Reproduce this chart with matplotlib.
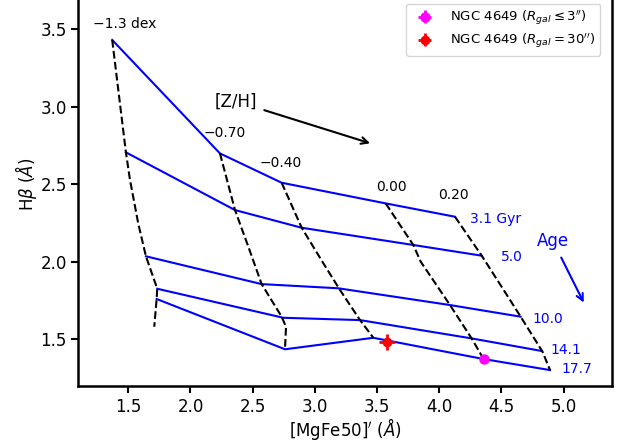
import matplotlib
matplotlib.use("Agg")
import matplotlib.pyplot as plt

# isochrones (blue): [Z/H] = -1.3, -0.70, -0.40, 0.00, 0.20
ages = ["3.1 Gyr", "5.0", "10.0", "14.1", "17.7"]
iso_x = [
    [1.371, 2.237, 2.733, 3.569, 4.126],
    [1.481, 2.358, 2.894, 3.791, 4.341],
    [1.642, 2.572, 3.188, 4.086, 4.654],
    [1.733, 2.746, 3.363, 4.260, 4.823],
    [1.728, 2.760, 3.470, 4.356, 4.890],
]
iso_y = [
    [3.429, 2.698, 2.509, 2.376, 2.290],
    [2.705, 2.333, 2.219, 2.108, 2.039],
    [2.035, 1.856, 1.829, 1.721, 1.646],
    [1.826, 1.639, 1.624, 1.506, 1.425],
    [1.760, 1.436, 1.510, 1.373, 1.302],
]

# iso-metallicity tracks (black dashed)
zh_labels = ["\u22121.3 dex", "\u22120.70", "\u22120.40", "0.00", "0.20"]
zh_x = [
    [1.371, 1.481, 1.514, 1.580, 1.642, 1.733, 1.728, 1.709],
    [2.237, 2.358, 2.465, 2.572, 2.733, 2.768, 2.760],
    [2.733, 2.894, 3.068, 3.202, 3.363, 3.470],
    [3.569, 3.791, 3.851, 4.086, 4.260, 4.356],
    [4.126, 4.341, 4.500, 4.654, 4.830, 4.890],
]
zh_y = [
    [3.429, 2.705, 2.527, 2.247, 2.035, 1.826, 1.760, 1.581],
    [2.698, 2.333, 2.097, 1.856, 1.646, 1.580, 1.440],
    [2.509, 2.219, 1.990, 1.818, 1.624, 1.510],
    [2.376, 2.108, 2.000, 1.721, 1.506, 1.373],
    [2.290, 2.039, 1.840, 1.646, 1.420, 1.302],
]

# NGC 4649 measurements
core_x, core_y = 4.356, 1.373
core_xerr, core_yerr = 0.005, 0.004
outer_x, outer_y = 3.582, 1.483
outer_xerr, outer_yerr = 0.064, 0.054

plt.rcParams["font.size"] = 12
fig = plt.figure(figsize=(6.23, 4.45), dpi=100)
ax = fig.add_axes([0.126, 0.1328, 0.8567, 0.9068])

for xs, ys in zip(iso_x, iso_y):
    ax.plot(xs, ys, color="blue", lw=1.5)
for xs, ys in zip(zh_x, zh_y):
    ax.plot(xs, ys, color="black", lw=1.5, ls="--")

ax.errorbar(core_x, core_y, xerr=core_xerr, yerr=core_yerr, fmt="o",
            color="magenta", ms=6.5, elinewidth=2,
            label=r"NGC 4649 ($R_{gal} \leq 3''$)", zorder=5)
ax.errorbar(outer_x, outer_y, xerr=outer_xerr, yerr=outer_yerr, fmt="o",
            color="red", ms=6, elinewidth=2,
            label=r"NGC 4649 ($R_{gal} = 30''$)", zorder=5)

# metallicity labels
zh_pos = [(1.216, 3.53), (2.108, 2.83), (2.559, 2.634), (3.614, 2.48), (4.116, 2.43)]
for lab, (tx, ty) in zip(zh_labels, zh_pos):
    ha = "center" if lab in ("0.00", "0.20") else "left"
    ax.text(tx, ty, lab, fontsize=10, ha=ha, va="center")

# age labels
age_pos = [(4.247, 2.275), (4.496, 2.028), (4.751, 1.631), (4.895, 1.431), (4.985, 1.308)]
for lab, (tx, ty) in zip(ages, age_pos):
    ax.text(tx, ty, lab, fontsize=10, color="blue", ha="left", va="center")

ax.text(2.366, 3.031, "[Z/H]", fontsize=12, ha="center", va="center")
ax.annotate("", xy=(3.465, 2.758), xytext=(2.572, 2.982),
            arrowprops=dict(arrowstyle="->", color="black", lw=1.5))
ax.text(4.914, 2.135, "Age", fontsize=12, color="blue", ha="center", va="center")
ax.annotate("", xy=(5.171, 1.721), xytext=(4.970, 2.043),
            arrowprops=dict(arrowstyle="->", color="blue", lw=1.5))

ax.set_xlim(1.1, 5.39)
ax.set_ylim(1.2, 3.8)
ax.set_xticks([1.5, 2.0, 2.5, 3.0, 3.5, 4.0, 4.5, 5.0])
ax.set_yticks([1.5, 2.0, 2.5, 3.0, 3.5])
ax.set_xlabel(r"[MgFe50]$'$ ($\AA$)", fontsize=12, labelpad=0)
ax.set_ylabel(r"H$\beta$ ($\AA$)", fontsize=12, labelpad=1)
for sp in ax.spines.values():
    sp.set_linewidth(1.8)
ax.tick_params(width=1.5, length=5, labelsize=12)

# legend anchored to the visible part of the axes
ax.legend(loc="upper right", bbox_to_anchor=(0.99, 0.964), fontsize=9.5,
          handletextpad=0.9, borderpad=0.4, labelspacing=0.35)

fig.savefig("out.png", dpi=100)
